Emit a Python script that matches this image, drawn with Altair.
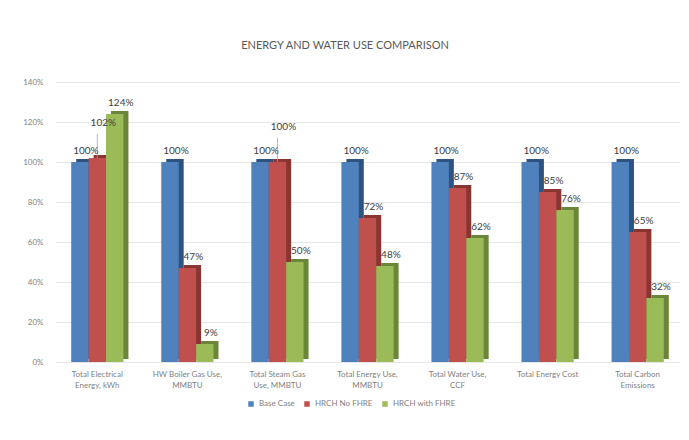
import altair as alt
import pandas as pd

chart_title = "ENERGY AND WATER USE COMPARISON"
categories = [
    "Total Electrical|Energy, kWh",
    "HW Boiler Gas Use,|MMBTU",
    "Total Steam Gas|Use, MMBTU",
    "Total Energy Use,|MMBTU",
    "Total Water Use,|CCF",
    "Total Energy Cost",
    "Total Carbon|Emissions",
]
series = ["Base Case", "HRCH No FHRE", "HRCH with FHRE"]
base_case = [100, 100, 100, 100, 100, 100, 100]
no_fhre = [102, 47, 100, 72, 87, 85, 65]
with_fhre = [124, 9, 50, 48, 62, 76, 32]
y_ticks = [0, 0.2, 0.4, 0.6, 0.8, 1.0, 1.2, 1.4]

colors = ["#4F81BD", "#C0504D", "#9BBB59"]
side_colors = ["#2F5380", "#8A3532", "#6A8638"]

rows = []
for i, c in enumerate(categories):
    for s, vals in zip(series, [base_case, no_fhre, with_fhre]):
        rows.append({"category": c, "series": s, "value": vals[i] / 100})
df = pd.DataFrame(rows)

FONT = "Lato"
W, H = 625, 280
PAD_L, PAD_T = 55, 82
P_IN, P_OUT = 0.42, 0.18
step = W / (len(categories) - P_IN + 2 * P_OUT)
band = step * (1 - P_IN)
DEPTH = 5

x_enc = alt.X(
    "category:N",
    sort=categories,
    scale=alt.Scale(paddingInner=P_IN, paddingOuter=P_OUT),
    axis=alt.Axis(
        title=None,
        labelAngle=0,
        labelExpr="split(datum.label, '|')",
        labelFontSize=8,
        labelColor="#7F7F7F",
        labelPadding=8,
        ticks=False,
        domain=False,
        labelLineHeight=11,
    ),
)

y_axis = alt.Axis(
    title=None,
    values=y_ticks,
    format=".0%",
    labelFontSize=8,
    labelColor="#7F7F7F",
    labelPadding=12,
    labelOverlap=False,
    ticks=False,
    domain=False,
    grid=True,
    gridColor="#E6E6E6",
)
y_scale = alt.Scale(domain=[0, 1.4], nice=False)


def y_enc(field="value"):
    return alt.Y(f"{field}:Q", scale=y_scale, axis=y_axis)


xoff_front = alt.XOffset("series:N", sort=series, scale=alt.Scale(domain=series, range=[0, band], paddingInner=0))
xoff_depth = alt.XOffset("series:N", sort=series, scale=alt.Scale(domain=series, range=[DEPTH, band + DEPTH], paddingInner=0))

base = alt.Chart(df)

depth = base.mark_bar(yOffset=-3).encode(
    x=x_enc,
    xOffset=xoff_depth,
    y=y_enc(),
    color=alt.Color("series:N", sort=series,
                    scale=alt.Scale(domain=series, range=side_colors), legend=None),
)
front = base.mark_bar().encode(
    x=x_enc,
    xOffset=xoff_front,
    y=y_enc(),
    color=alt.Color(
        "series:N",
        sort=series,
        scale=alt.Scale(domain=series, range=colors),
        legend=alt.Legend(
            title=None,
            orient="none",
            legendX=192,
            legendY=318,
            direction="horizontal",
            symbolType="square",
            symbolSize=30,
            labelFontSize=8,
            labelColor="#7F7F7F",
            columnPadding=8,
        ),
    ),
)

# labels; a label that would collide with the Base Case label is lifted
label_base = (
    base.transform_calculate(bval="datum.series == 'Base Case' ? datum.value : null")
    .transform_joinaggregate(base_val="max(bval)", groupby=["category"])
    .transform_calculate(
        lift="datum.series == 'HRCH No FHRE' && abs(datum.value - datum.base_val) < 0.05 ? 0.12 : 0",
        label_y="datum.value + datum.lift",
    )
)
labels = label_base.mark_text(dy=-11, dx=6, fontSize=10, color="#404040", font=FONT).encode(
    x=x_enc,
    xOffset=xoff_front,
    y=y_enc("label_y"),
    text=alt.Text("value:Q", format=".0%"),
)
leaders = label_base.transform_filter("datum.lift > 0").mark_rule(
    color="#A6A6A6", strokeWidth=0.8
).encode(
    x=x_enc,
    xOffset=xoff_front,
    y=y_enc("value"),
    y2=alt.Y2("label_y"),
)

title_df = pd.DataFrame({"t": [chart_title]})
title_mark = alt.Chart(title_df).mark_text(
    fontSize=11, color="#595959", font=FONT, align="center", baseline="middle"
).encode(
    text="t:N", x=alt.value(345 - PAD_L), y=alt.value(46 - PAD_T)
)

chart = (
    alt.layer(depth, front, leaders, labels, title_mark)
    .resolve_scale(color="independent", xOffset="independent")
    .properties(
        width=W,
        height=H,
        autosize=alt.AutoSizeParams(type="none"),
        padding={"left": PAD_L, "top": PAD_T, "right": 9, "bottom": 78},
    )
    .configure(font=FONT, background="white")
    .configure_view(stroke=None)
)

chart.save("out.html", embed_options={"renderer": "svg", "actions": False})
